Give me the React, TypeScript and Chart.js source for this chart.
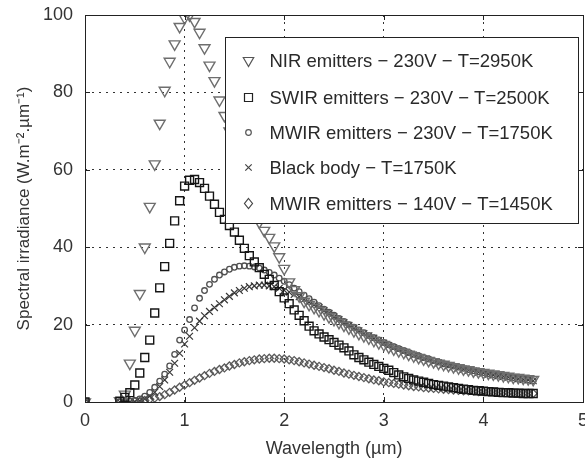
import React, { useEffect, useRef } from 'react';
import { Chart, registerables } from 'chart.js';

Chart.register(...registerables);

// Wavelength grid (µm)
const wavelengths = [
  0,
  0.35, 0.4, 0.45, 0.5, 0.55, 0.6, 0.65, 0.7, 0.75, 0.8, 0.85, 0.9, 0.95,
  1.0, 1.05, 1.1, 1.15, 1.2, 1.25, 1.3, 1.35, 1.4, 1.45, 1.5, 1.55, 1.6, 1.65, 1.7, 1.75, 1.8, 1.85, 1.9, 1.95,
  2.0, 2.05, 2.1, 2.15, 2.2, 2.25, 2.3, 2.35, 2.4, 2.45, 2.5, 2.55, 2.6, 2.65, 2.7, 2.75, 2.8, 2.85, 2.9, 2.95,
  3.0, 3.05, 3.1, 3.15, 3.2, 3.25, 3.3, 3.35, 3.4, 3.45, 3.5, 3.55, 3.6, 3.65, 3.7, 3.75, 3.8, 3.85, 3.9, 3.95,
  4.0, 4.05, 4.1, 4.15, 4.2, 4.25, 4.3, 4.35, 4.4, 4.45, 4.5,
];

// NIR emitters - 230V - T=2950K
const nirValues = [
  0,
  0.3, 2, 10, 18.5, 28, 40, 50.5, 61.5, 72, 80.5, 88, 92.5, 97,
  99.3, 100, 98.3, 95.5, 91.5, 87, 83, 78, 74, 70, 66, 61.5, 57, 53, 49.5, 46.5, 44.3, 42.5, 40.3, 37.5,
  34.5, 31, 29, 27.4, 26, 25.2, 24.4, 23.6, 22.8, 22.0, 21.3, 20.5, 19.8, 19.1, 18.4, 17.7, 17.1, 16.5, 15.9, 15.3,
  14.8, 14.2, 13.7, 13.2, 12.8, 12.3, 11.9, 11.5, 11.1, 10.7, 10.4, 10.0, 9.7, 9.4, 9.1, 8.8, 8.5, 8.3, 8.0, 7.8,
  7.6, 7.4, 7.2, 7.0, 6.8, 6.6, 6.4, 6.3, 6.1, 6.0, 5.8,
];

// SWIR emitters - 230V - T=2500K
const swirValues = [
  0,
  0.2, 1.2, 2.4, 4.4, 7.5, 11.5, 16.0, 23.0, 29.5, 35.0, 41.0, 46.8, 52.0,
  55.8, 57.3, 57.5, 56.7, 55.2, 53.2, 51.1, 49.0, 47.2, 45.6, 43.9, 41.8, 39.7, 37.8, 36.2, 34.7, 33.0, 31.7, 30.1, 28.5,
  26.9, 25.4, 23.8, 22.4, 21.0, 19.6, 18.4, 17.6, 16.8, 16.1, 15.4, 14.7, 14.0, 13.2, 12.2, 11.5, 10.9, 10.3, 9.7, 9.2,
  8.7, 8.2, 7.6, 7.0, 6.5, 6.1, 5.7, 5.4, 5.1, 4.8, 4.5, 4.3, 4.1, 3.9, 3.7, 3.5, 3.3, 3.2, 3.0, 2.9,
  2.8, 2.7, 2.6, 2.5, 2.4, 2.4, 2.3, 2.3, 2.2, 2.2, 2.2,
];

// MWIR emitters - 230V - T=1750K
const mwir230Values = [
  0,
  0, 0.1, 0.2, 0.4, 0.8, 1.5, 2.5, 3.8, 5.4, 7.2, 9.3, 12.3, 16.0,
  18.6, 21.3, 24.3, 26.8, 28.8, 30.4, 31.7, 32.8, 33.6, 34.3, 34.8, 35.1, 35.2, 35.1, 34.9, 34.6, 34.1, 33.5, 32.8, 32.0,
  31.2, 30.3, 29.4, 28.5, 27.6, 26.7, 25.8, 24.9, 24.0, 23.2, 22.4, 21.6, 20.8, 20.0, 19.3, 18.6, 17.9, 17.2, 16.6, 16.0,
  15.4, 14.8, 14.3, 13.8, 13.3, 12.8, 12.3, 11.9, 11.5, 11.1, 10.7, 10.3, 9.9, 9.6, 9.3, 9.0, 8.7, 8.4, 8.1, 7.8,
  7.6, 7.3, 7.1, 6.9, 6.7, 6.5, 6.3, 6.1, 5.9, 5.7, 5.5,
];

// Black body - T=1750K
const blackBodyValues = [
  0,
  0, 0, 0, 0.1, 0.3, 0.8, 1.5, 2.5, 4.0, 5.7, 7.7, 10.0, 12.6,
  15.0, 17.0, 19.2, 20.9, 22.3, 23.4, 24.4, 25.4, 26.4, 27.3, 28.2, 28.8, 29.4, 29.8, 30.0, 30.2, 30.2, 30.0, 29.8, 29.4,
  28.9, 28.4, 27.8, 27.2, 26.5, 25.8, 25.1, 24.4, 23.6, 22.9, 22.0, 21.3, 20.5, 19.8, 19.1, 18.4, 17.7, 17.1, 16.5, 15.9,
  15.2, 14.6, 14.0, 13.5, 13.0, 12.5, 12.1, 11.6, 11.2, 10.8, 10.4, 10.1, 9.7, 9.4, 9.1, 8.8, 8.5, 8.2, 8.0, 7.7,
  7.5, 7.2, 7.0, 6.8, 6.6, 6.4, 6.2, 6.0, 5.8, 5.7, 5.5,
];

// MWIR emitters - 140V - T=1450K
const mwir140Values = [
  0,
  0, 0, 0.1, 0.1, 0.2, 0.4, 0.7, 1.0, 1.4, 1.9, 2.5, 3.1, 3.8,
  4.4, 5.0, 5.6, 6.2, 6.8, 7.4, 7.9, 8.4, 8.8, 9.3, 9.7, 10.1, 10.4, 10.7, 10.9, 11.1, 11.2, 11.3, 11.3, 11.2,
  11.1, 10.9, 10.7, 10.4, 10.1, 9.8, 9.5, 9.2, 8.9, 8.6, 8.2, 7.9, 7.5, 7.2, 6.9, 6.6, 6.3, 6.0, 5.7, 5.5,
  5.2, 5.0, 4.8, 4.6, 4.4, 4.2, 4.0, 3.9, 3.7, 3.6, 3.5, 3.4, 3.3, 3.2, 3.1, 3.0, 2.9, 2.9, 2.8, 2.7,
  2.7, 2.6, 2.6, 2.5, 2.5, 2.4, 2.4, 2.3, 2.3, 2.3, 2.2,
];

const seriesLabels = [
  'NIR emitters \u2212 230V \u2212 T=2950K',
  'SWIR emitters \u2212 230V \u2212 T=2500K',
  'MWIR emitters \u2212 230V \u2212 T=1750K',
  'Black body \u2212 T=1750K',
  'MWIR emitters \u2212 140V \u2212 T=1450K',
];

const xTickValues = [0, 1, 2, 3, 4, 5];
const yTickValues = [0, 20, 40, 60, 80, 100];

const xTitle = 'Wavelength (\u00b5m)';
const yTitle = 'Spectral irradiance (W.m\u207b\u00b2.\u00b5m\u207b\u00b9)';

const FONT = '"Liberation Sans", Arial, Helvetica, sans-serif';

function toPoints(values: number[]) {
  return wavelengths.map((x, i) => ({ x, y: values[i] }));
}

type Marker = 'tri' | 'square' | 'circle' | 'x' | 'diamond';

function drawMarker(ctx: CanvasRenderingContext2D, kind: Marker, x: number, y: number) {
  ctx.beginPath();
  if (kind === 'tri') {
    const r = 6;
    ctx.moveTo(x, y + r);
    ctx.lineTo(x - 0.866 * r, y - 0.5 * r);
    ctx.lineTo(x + 0.866 * r, y - 0.5 * r);
    ctx.closePath();
  } else if (kind === 'square') {
    ctx.rect(x - 4, y - 4, 8, 8);
  } else if (kind === 'circle') {
    ctx.arc(x, y, 2.8, 0, Math.PI * 2);
  } else if (kind === 'x') {
    ctx.moveTo(x - 3.2, y - 3.2);
    ctx.lineTo(x + 3.2, y + 3.2);
    ctx.moveTo(x + 3.2, y - 3.2);
    ctx.lineTo(x - 3.2, y + 3.2);
  } else {
    ctx.moveTo(x, y - 5);
    ctx.lineTo(x + 4, y);
    ctx.lineTo(x, y + 5);
    ctx.lineTo(x - 4, y);
    ctx.closePath();
  }
  ctx.stroke();
}

const legendMarkers: Marker[] = ['tri', 'square', 'circle', 'x', 'diamond'];
const legendColors = ['#555', '#222', '#555', '#444', '#444'];

const framePlugin = {
  id: 'frameAndLegend',
  afterDatasetsDraw(chart: any) {
    const { ctx, chartArea } = chart;
    const { left, right, top, bottom } = chartArea;
    const xs = chart.scales.x;
    const ys = chart.scales.y;
    ctx.save();
    ctx.strokeStyle = '#222';
    ctx.lineWidth = 1;
    ctx.setLineDash([]);
    ctx.strokeRect(Math.round(left) + 0.5, Math.round(top) + 0.5, Math.round(right - left), Math.round(bottom - top));
    // inward tick marks
    const tl = 5;
    ctx.beginPath();
    xTickValues.slice(1, -1).forEach((v) => {
      const px = Math.round(xs.getPixelForValue(v)) + 0.5;
      ctx.moveTo(px, bottom);
      ctx.lineTo(px, bottom - tl);
      ctx.moveTo(px, top);
      ctx.lineTo(px, top + tl);
    });
    yTickValues.slice(1, -1).forEach((v) => {
      const py = Math.round(ys.getPixelForValue(v)) + 0.5;
      ctx.moveTo(left, py);
      ctx.lineTo(left + tl, py);
      ctx.moveTo(right, py);
      ctx.lineTo(right - tl, py);
    });
    ctx.stroke();

    // legend box
    const bx = Math.round(left + 140) + 0.5;
    const by = Math.round(top + 22) + 0.5;
    const bw = 353;
    const bh = 186;
    ctx.fillStyle = '#ffffff';
    ctx.fillRect(bx, by, bw, bh);
    ctx.strokeStyle = '#222';
    ctx.strokeRect(bx, by, bw, bh);
    const rows = [23, 60, 95, 130, 166];
    ctx.font = '18.5px ' + FONT;
    ctx.textBaseline = 'middle';
    ctx.textAlign = 'left';
    seriesLabels.forEach((label, i) => {
      const cy = by + rows[i];
      ctx.strokeStyle = legendColors[i];
      ctx.lineWidth = 1.2;
      drawMarker(ctx, legendMarkers[i], bx + 23, cy);
      ctx.fillStyle = '#2a2a2a';
      ctx.fillText(label, bx + 44, cy + 1);
    });
    ctx.restore();
  },
};

export default function App() {
  const canvasRef = useRef<HTMLCanvasElement | null>(null);

  useEffect(() => {
    const canvas = canvasRef.current;
    if (!canvas) return;
    Chart.defaults.font.family = FONT;
    const common = {
      showLine: false,
      backgroundColor: 'rgba(0,0,0,0)',
      pointBackgroundColor: 'rgba(0,0,0,0)',
      pointHoverRadius: 0,
    };
    const chart = new Chart(canvas, {
      type: 'scatter',
      data: {
        datasets: [
          {
            ...common,
            label: seriesLabels[1],
            data: toPoints(swirValues),
            pointStyle: 'rect',
            pointRadius: 5.6,
            pointBorderWidth: 1.4,
            borderColor: '#151515',
            pointBorderColor: '#151515',
          },
          {
            ...common,
            label: seriesLabels[0],
            data: toPoints(nirValues),
            pointStyle: 'triangle',
            pointRotation: 180,
            pointRadius: 6.3,
            pointBorderWidth: 1.4,
            borderColor: '#6e6e6e',
            pointBorderColor: '#6e6e6e',
          },
          {
            ...common,
            label: seriesLabels[2],
            data: toPoints(mwir230Values),
            pointStyle: 'circle',
            pointRadius: 2.8,
            pointBorderWidth: 1.3,
            borderColor: '#505050',
            pointBorderColor: '#505050',
          },
          {
            ...common,
            label: seriesLabels[3],
            data: toPoints(blackBodyValues),
            pointStyle: 'crossRot',
            pointRadius: 4.8,
            pointBorderWidth: 1.2,
            borderColor: '#383838',
            pointBorderColor: '#383838',
          },
          {
            ...common,
            label: seriesLabels[4],
            data: toPoints(mwir140Values),
            pointStyle: 'rectRot',
            pointRadius: 4,
            pointBorderWidth: 1.3,
            borderColor: '#5a5a5a',
            pointBorderColor: '#5a5a5a',
          },
        ],
      },
      options: {
        responsive: false,
        animation: false,
        devicePixelRatio: 1,
        events: [],
        layout: { padding: { top: 15, right: 22, left: 0, bottom: 0 } },
        plugins: {
          legend: { display: false },
          tooltip: { enabled: false },
        },
        scales: {
          x: {
            type: 'linear',
            min: 0,
            max: 5,
            afterFit: (scale: any) => {
              scale.height = 58;
              scale.paddingLeft = 0;
              scale.paddingRight = 0;
            },
            afterBuildTicks: (scale: any) => {
              scale.ticks = xTickValues.map((v) => ({ value: v }));
            },
            ticks: {
              padding: 8,
              color: '#333',
              font: { size: 18, family: FONT },
              maxRotation: 0,
            },
            grid: {
              drawTicks: false,
              lineWidth: 1,
              color: (c: any) =>
                c.tick && (c.tick.value === 0 || c.tick.value === 5) ? 'rgba(0,0,0,0)' : '#333',
            },
            border: { display: false, dash: [2, 5] },
            title: {
              display: true,
              text: xTitle,
              color: '#333',
              font: { size: 18, family: FONT },
              padding: { top: 0, bottom: 0 },
            },
          },
          y: {
            type: 'linear',
            min: 0,
            max: 100,
            afterFit: (scale: any) => {
              scale.width = 85;
              scale.paddingTop = 0;
              scale.paddingBottom = 0;
            },
            afterBuildTicks: (scale: any) => {
              scale.ticks = yTickValues.map((v) => ({ value: v }));
            },
            ticks: {
              padding: 12,
              color: '#333',
              font: { size: 18, family: FONT },
            },
            grid: {
              drawTicks: false,
              lineWidth: 1,
              color: (c: any) =>
                c.tick && (c.tick.value === 0 || c.tick.value === 100) ? 'rgba(0,0,0,0)' : '#333',
            },
            border: { display: false, dash: [2, 5] },
            title: {
              display: true,
              text: yTitle,
              color: '#333',
              font: { size: 17, family: FONT },
              padding: { top: 14, bottom: 0 },
            },
          },
        },
      },
      plugins: [framePlugin],
    } as any);
    return () => chart.destroy();
  }, []);

  return (
    <div
      style={{
        position: 'fixed',
        left: 0,
        top: 0,
        width: 585,
        height: 460,
        overflow: 'hidden',
        background: '#ffffff',
      }}
    >
      <canvas ref={canvasRef} width={605} height={460} style={{ display: 'block' }} />
    </div>
  );
}
